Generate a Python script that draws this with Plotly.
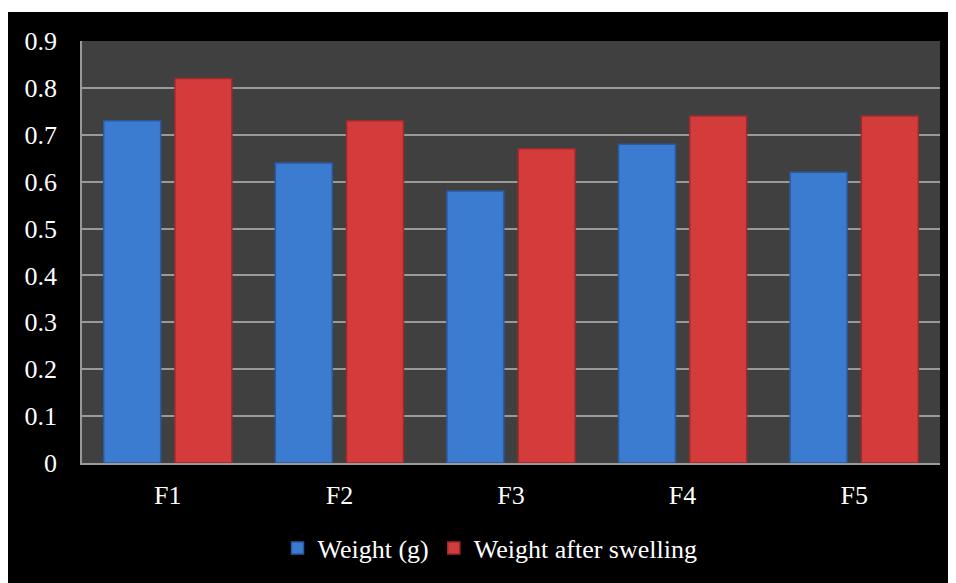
import plotly.graph_objects as go

categories = ["F1", "F2", "F3", "F4", "F5"]
weight_g = [0.73, 0.64, 0.58, 0.68, 0.62]
weight_after_swelling = [0.82, 0.73, 0.67, 0.74, 0.74]
y_ticks = [0, 0.1, 0.2, 0.3, 0.4, 0.5, 0.6, 0.7, 0.8, 0.9]
y_tick_text = ["0", "0.1", "0.2", "0.3", "0.4", "0.5", "0.6", "0.7", "0.8", "0.9"]

FONT = "Liberation Serif, Times New Roman, serif"

fig = go.Figure()
fig.add_trace(go.Bar(
    x=categories, y=weight_g, name="Weight (g)",
    marker=dict(color="#3b7bd0", line=dict(color="#2a5a9e", width=1.5)),
))
fig.add_trace(go.Bar(
    x=categories, y=weight_after_swelling, name="Weight after swelling",
    marker=dict(color="#d43c3c", line=dict(color="#a02a2a", width=1.5)),
))

# page body has an 8px margin; figure sized to fit the 956x583 window
OFF = 8
W, H = 956 - OFF, 583 - OFF
L, R, T, B = 82 - OFF, 16, 41 - OFF, 120
pw, ph = W - L - R, H - T - B

def px_x(v):  # screen px -> paper
    return (v - OFF - L) / pw

def px_y(v):
    return (H - B - (v - OFF)) / ph

fig.update_layout(
    width=W, height=H,
    margin=dict(l=L, r=R, t=T, b=B),
    paper_bgcolor="black",
    plot_bgcolor="#404040",
    barmode="group",
    bargap=0.17,
    bargroupgap=0.2,
    font=dict(family=FONT, size=26, color="white"),
    showlegend=True,
    legend=dict(
        orientation="h", x=px_x(490), xanchor="center",
        y=px_y(548), yanchor="middle",
        font=dict(family=FONT, size=26, color="white"),
        bgcolor="rgba(0,0,0,0)",
    ),
    xaxis=dict(
        showline=True, linecolor="#9a9a9a", linewidth=2,
        ticks="", ticklabelstandoff=8,
        tickfont=dict(family=FONT, size=26, color="white"),
        showgrid=False,
    ),
    yaxis=dict(
        range=[0, 0.9], tickvals=y_ticks, ticktext=y_tick_text,
        showline=True, linecolor="#9a9a9a", linewidth=1.5,
        showgrid=True, gridcolor="#9a9a9a", gridwidth=1.5,
        zeroline=False, ticks="", ticklabelstandoff=18,
        tickfont=dict(family=FONT, size=26, color="white"),
    ),
    shapes=[
        dict(type="rect", xref="paper", yref="paper",
             x0=px_x(OFF), x1=px_x(956), y0=px_y(12), y1=px_y(OFF),
             fillcolor="white", line=dict(width=0), layer="above"),
    ],
)

fig.write_html("out.html")
